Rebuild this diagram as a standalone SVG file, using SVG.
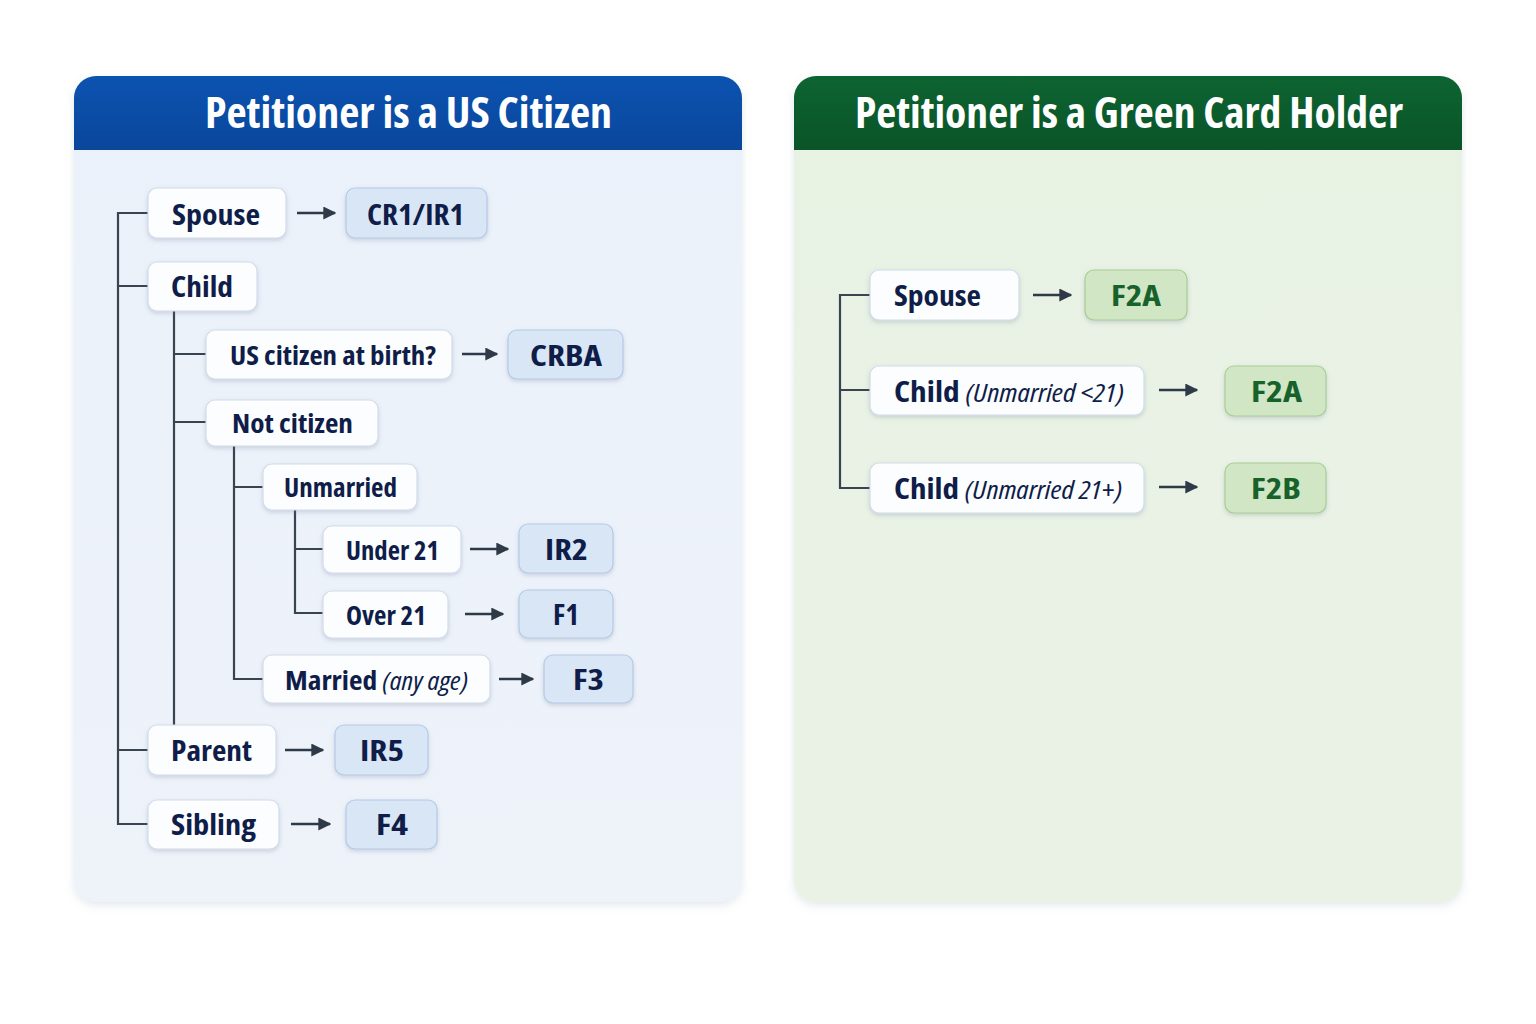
<svg xmlns="http://www.w3.org/2000/svg" width="1536" height="1024" viewBox="0 0 1536 1024">
<defs>
<linearGradient id="blueHead" x1="0" y1="0" x2="0" y2="1"><stop offset="0" stop-color="#0b53b0"/><stop offset="1" stop-color="#0a469c"/></linearGradient>
<linearGradient id="greenHead" x1="0" y1="0" x2="0" y2="1"><stop offset="0" stop-color="#0d6431"/><stop offset="1" stop-color="#0a5428"/></linearGradient>
<linearGradient id="blueBody" x1="0" y1="0" x2="0" y2="1"><stop offset="0" stop-color="#ebf1fa"/><stop offset="1" stop-color="#eef3fa"/></linearGradient>
<linearGradient id="greenBody" x1="0" y1="0" x2="0" y2="1"><stop offset="0" stop-color="#e8f2e3"/><stop offset="1" stop-color="#eaf2e6"/></linearGradient>
<filter id="sh" x="-20%" y="-30%" width="140%" height="170%"><feDropShadow dx="0" dy="2" stdDeviation="2" flood-color="#5a6e8c" flood-opacity="0.25"/></filter>
<filter id="psh" x="-5%" y="-5%" width="110%" height="110%"><feDropShadow dx="0" dy="3" stdDeviation="5" flood-color="#8090a8" flood-opacity="0.22"/></filter>
<marker id="arr" viewBox="0 0 10 10" refX="9" refY="5" markerWidth="5" markerHeight="5" orient="auto" markerUnits="strokeWidth"><path d="M0,0 L10,5 L0,10 z" fill="#2f3a48"/></marker>
<clipPath id="cl"><rect x="74" y="76" width="668" height="826" rx="22"/></clipPath>
<clipPath id="cr"><rect x="794" y="76" width="668" height="826" rx="22"/></clipPath>
</defs>
<style>
text{font-family:"Open Sans","Noto Sans","Liberation Sans",sans-serif;font-weight:bold;font-stretch:condensed}
.t{font-size:29px;fill:#0f1d48}
.s{font-size:27px}
.title{font-size:42px;fill:#ffffff}
.it{font-style:italic;font-weight:normal;font-size:26px}
.n{fill:#fbfdff;stroke:#d3dcea;stroke-width:1.2}
.rb{fill:#d9e6f6;stroke:#b5cae6;stroke-width:1.2}
.rg{fill:#d1e6c4;stroke:#a9cd96;stroke-width:1.2}
.gt{fill:#17612b}
.ln{fill:none;stroke:#3a4350;stroke-width:2.2}
.ar{fill:none;stroke:#2f3a48;stroke-width:2.6;marker-end:url(#arr)}
</style>
<rect width="1536" height="1024" fill="#ffffff"/>

<g id="panel-us">
<rect x="74" y="76" width="668" height="826" rx="22" fill="url(#blueBody)" filter="url(#psh)"/>
<g clip-path="url(#cl)"><rect x="74" y="76" width="668" height="74" fill="url(#blueHead)"/></g>
<text class="title" x="205" y="128" textLength="407" lengthAdjust="spacingAndGlyphs">Petitioner is a US Citizen</text>
</g>
<g id="panel-gc">
<rect x="794" y="76" width="668" height="826" rx="22" fill="url(#greenBody)" filter="url(#psh)"/>
<g clip-path="url(#cr)"><rect x="794" y="76" width="668" height="74" fill="url(#greenHead)"/></g>
<text class="title" x="855" y="128" textLength="548" lengthAdjust="spacingAndGlyphs">Petitioner is a Green Card Holder</text>
</g>

<g id="connectors">
<path class="ln" d="M148,213 H118 V824 H148 M118,286 H148 M118,750 H148"/>
<path class="ln" d="M174,311 V725 M174,354 H206 M174,422 H206"/>
<path class="ln" d="M234,446 V679 H263 M234,487 H263"/>
<path class="ln" d="M295,510 V613 H323 M295,549 H323"/>
<path class="ar" d="M297,213 H335"/>
<path class="ar" d="M462,354 H497"/>
<path class="ar" d="M470,549 H508"/>
<path class="ar" d="M465,614 H503"/>
<path class="ar" d="M499,679 H533"/>
<path class="ar" d="M285,750 H323"/>
<path class="ar" d="M291,824 H330"/>
<path class="ln" d="M870,295 H840 V488 H870 M840,390 H870"/>
<path class="ar" d="M1033,295 H1071"/>
<path class="ar" d="M1159,390 H1197"/>
<path class="ar" d="M1159,487 H1197"/>
</g>

<g id="us-spouse"><rect class="n" x="148" y="188" width="138" height="50" rx="9" filter="url(#sh)"/><text class="t" x="172" y="225" textLength="88" lengthAdjust="spacingAndGlyphs">Spouse</text></g>
<g id="us-cr1"><rect class="rb" x="346" y="188" width="141" height="50" rx="9" filter="url(#sh)"/><text class="t" x="367" y="225" textLength="97" lengthAdjust="spacingAndGlyphs">CR1/IR1</text></g>
<g id="us-child"><rect class="n" x="148" y="262" width="109" height="49" rx="9" filter="url(#sh)"/><text class="t" x="171" y="297" textLength="62" lengthAdjust="spacingAndGlyphs">Child</text></g>
<g id="us-birth"><rect class="n" x="206" y="330" width="246" height="49" rx="9" filter="url(#sh)"/><text class="t s" x="230" y="365" textLength="206" lengthAdjust="spacingAndGlyphs">US citizen at birth?</text></g>
<g id="us-crba"><rect class="rb" x="508" y="330" width="115" height="49" rx="9" filter="url(#sh)"/><text class="t" x="530" y="366" textLength="72" lengthAdjust="spacingAndGlyphs">CRBA</text></g>
<g id="us-notcit"><rect class="n" x="206" y="400" width="172" height="46" rx="9" filter="url(#sh)"/><text class="t s" x="232" y="433" textLength="121" lengthAdjust="spacingAndGlyphs">Not citizen</text></g>
<g id="us-unmarried"><rect class="n" x="263" y="464" width="154" height="46" rx="9" filter="url(#sh)"/><text class="t s" x="284" y="497" textLength="113" lengthAdjust="spacingAndGlyphs">Unmarried</text></g>
<g id="us-under21"><rect class="n" x="323" y="526" width="138" height="47" rx="9" filter="url(#sh)"/><text class="t s" x="346" y="560" textLength="93" lengthAdjust="spacingAndGlyphs">Under 21</text></g>
<g id="us-ir2"><rect class="rb" x="519" y="524" width="94" height="49" rx="9" filter="url(#sh)"/><text class="t" x="545" y="560" textLength="43" lengthAdjust="spacingAndGlyphs">IR2</text></g>
<g id="us-over21"><rect class="n" x="323" y="591" width="125" height="47" rx="9" filter="url(#sh)"/><text class="t s" x="346" y="625" textLength="80" lengthAdjust="spacingAndGlyphs">Over 21</text></g>
<g id="us-f1"><rect class="rb" x="519" y="590" width="94" height="48" rx="9" filter="url(#sh)"/><text class="t" x="553" y="625" textLength="26" lengthAdjust="spacingAndGlyphs">F1</text></g>
<g id="us-married"><rect class="n" x="263" y="655" width="227" height="48" rx="9" filter="url(#sh)"/><text class="t s" x="285" y="690" textLength="183" lengthAdjust="spacingAndGlyphs">Married <tspan class="it">(any age)</tspan></text></g>
<g id="us-f3"><rect class="rb" x="544" y="655" width="89" height="48" rx="9" filter="url(#sh)"/><text class="t" x="573" y="690" textLength="31" lengthAdjust="spacingAndGlyphs">F3</text></g>
<g id="us-parent"><rect class="n" x="148" y="725" width="128" height="50" rx="9" filter="url(#sh)"/><text class="t" x="171" y="761" textLength="81" lengthAdjust="spacingAndGlyphs">Parent</text></g>
<g id="us-ir5"><rect class="rb" x="335" y="725" width="93" height="50" rx="9" filter="url(#sh)"/><text class="t" x="360" y="761" textLength="44" lengthAdjust="spacingAndGlyphs">IR5</text></g>
<g id="us-sibling"><rect class="n" x="148" y="800" width="131" height="49" rx="9" filter="url(#sh)"/><text class="t" x="171" y="835" textLength="85" lengthAdjust="spacingAndGlyphs">Sibling</text></g>
<g id="us-f4"><rect class="rb" x="346" y="800" width="91" height="49" rx="9" filter="url(#sh)"/><text class="t" x="376" y="835" textLength="32" lengthAdjust="spacingAndGlyphs">F4</text></g>

<g id="gc-spouse"><rect class="n" x="870" y="270" width="149" height="50" rx="9" filter="url(#sh)"/><text class="t" x="894" y="306" textLength="87" lengthAdjust="spacingAndGlyphs">Spouse</text></g>
<g id="gc-f2a1"><rect class="rg" x="1085" y="270" width="102" height="50" rx="9" filter="url(#sh)"/><text class="t gt" x="1111" y="306" textLength="50" lengthAdjust="spacingAndGlyphs">F2A</text></g>
<g id="gc-child1"><rect class="n" x="870" y="366" width="274" height="49" rx="9" filter="url(#sh)"/><text class="t" x="894" y="402" textLength="230" lengthAdjust="spacingAndGlyphs">Child <tspan class="it">(Unmarried &lt;21)</tspan></text></g>
<g id="gc-f2a2"><rect class="rg" x="1225" y="366" width="101" height="50" rx="9" filter="url(#sh)"/><text class="t gt" x="1251" y="402" textLength="51" lengthAdjust="spacingAndGlyphs">F2A</text></g>
<g id="gc-child2"><rect class="n" x="870" y="463" width="274" height="50" rx="9" filter="url(#sh)"/><text class="t" x="894" y="499" textLength="228" lengthAdjust="spacingAndGlyphs">Child <tspan class="it">(Unmarried 21+)</tspan></text></g>
<g id="gc-f2b"><rect class="rg" x="1225" y="463" width="101" height="50" rx="9" filter="url(#sh)"/><text class="t gt" x="1251" y="499" textLength="50" lengthAdjust="spacingAndGlyphs">F2B</text></g>
</svg>
